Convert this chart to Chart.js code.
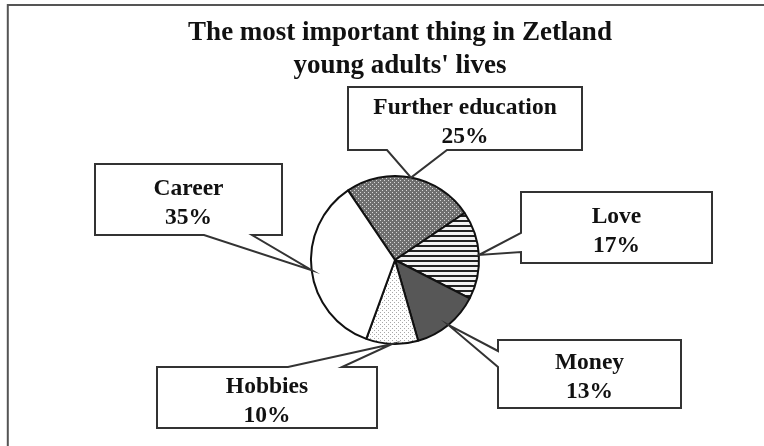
<!DOCTYPE html>
<html><head><meta charset="utf-8">
<style>html,body{margin:0;padding:0;background:#fff;}#wrap{width:764px;height:446px;position:relative;}</style>
<script src="https://cdn.jsdelivr.net/npm/chart.js@4/dist/chart.umd.min.js"></script>
</head><body><div id="wrap"><canvas id="c" width="764" height="446"></canvas></div>
<script>
const categories = ['Further education', 'Love', 'Money', 'Hobbies', 'Career'];
const values = [25, 17, 13, 10, 35];
const titleLines = ['The most important thing in Zetland', "young adults' lives"];

// layout of the callout boxes (per category, same order)
const calloutLayout = [
  {box: [348, 87, 582, 150], side: 'bottom', gap: [387, 447]},
  {box: [521, 192, 712, 263], side: 'left', gap: [233, 252]},
  {box: [498, 340, 681, 408], side: 'left', gap: [351, 367]},
  {box: [157, 367, 377, 428], side: 'top', gap: [288, 342]},
  {box: [95, 164, 282, 235], side: 'bottom', gap: [204, 252]}
];

function tile(w, h, draw) {
  const c = document.createElement('canvas');
  c.width = w; c.height = h;
  const x = c.getContext('2d');
  draw(x);
  return document.getElementById('c').getContext('2d').createPattern(c, 'repeat');
}
const fills = [
  tile(4, 4, x => { x.fillStyle = '#6f6f6f'; x.fillRect(0,0,4,4); x.fillStyle = '#d8d8d8'; x.fillRect(0,0,1,1); x.fillRect(2,2,1,1); }),
  tile(1, 5, x => { x.fillStyle = '#f2f2f2'; x.fillRect(0,0,1,5); x.fillStyle = '#222'; x.fillRect(0,0,1,2); }),
  '#575757',
  tile(4, 4, x => { x.fillStyle = '#fff'; x.fillRect(0,0,4,4); x.fillStyle = '#a8a8a8'; x.fillRect(0,0,1,1); x.fillRect(2,2,1,1); }),
  '#ffffff'
];

const decor = {
  id: 'decor',
  beforeDraw(chart) {
    const ctx = chart.ctx;
    ctx.save();
    ctx.fillStyle = '#fff';
    ctx.fillRect(0, 0, chart.width, chart.height);
    ctx.strokeStyle = '#555';
    ctx.lineWidth = 2;
    ctx.beginPath();
    ctx.moveTo(7.8, 446); ctx.lineTo(7.8, 5); ctx.lineTo(764, 5);
    ctx.stroke();
    ctx.fillStyle = '#111';
    ctx.font = 'bold 27px "Liberation Serif", "Times New Roman", serif';
    ctx.textAlign = 'center';
    ctx.textBaseline = 'middle';
    ctx.fillText(titleLines[0], 400, 33);
    ctx.fillText(titleLines[1], 400, 66);
    ctx.restore();
  },
  afterDraw(chart) {
    const ctx = chart.ctx;
    const meta = chart.getDatasetMeta(0);
    ctx.save();
    calloutLayout.forEach((c, i) => {
      const arc = meta.data[i];
      const mid = (arc.startAngle + arc.endAngle) / 2;
      const tx = arc.x + Math.cos(mid) * arc.outerRadius;
      const ty = arc.y + Math.sin(mid) * arc.outerRadius;
      const [l, t, r, b] = c.box;
      ctx.beginPath();
      ctx.moveTo(l, t);
      if (c.side === 'top') { ctx.lineTo(c.gap[0], t); ctx.lineTo(tx, ty); ctx.lineTo(c.gap[1], t); }
      ctx.lineTo(r, t);
      ctx.lineTo(r, b);
      if (c.side === 'bottom') { ctx.lineTo(c.gap[1], b); ctx.lineTo(tx, ty); ctx.lineTo(c.gap[0], b); }
      ctx.lineTo(l, b);
      if (c.side === 'left') { ctx.lineTo(l, c.gap[1]); ctx.lineTo(tx, ty); ctx.lineTo(l, c.gap[0]); }
      ctx.closePath();
      ctx.fillStyle = '#fff';
      ctx.fill();
      ctx.strokeStyle = '#333';
      ctx.lineWidth = 2;
      ctx.lineJoin = 'miter';
      ctx.stroke();
      const cx = (l + r) / 2, cy = (t + b) / 2;
      ctx.fillStyle = '#111';
      ctx.font = 'bold 23.5px "Liberation Serif", "Times New Roman", serif';
      ctx.textAlign = 'center';
      ctx.textBaseline = 'middle';
      ctx.fillText(categories[i], cx, cy - 11);
      ctx.fillText(values[i] + '%', cx, cy + 18);
    });
    ctx.restore();
  }
};

new Chart(document.getElementById('c'), {
  type: 'pie',
  data: {
    labels: categories,
    datasets: [{
      data: values,
      backgroundColor: fills,
      borderColor: '#111',
      borderWidth: 2
    }]
  },
  options: {
    responsive: false,
    devicePixelRatio: 1,
    animation: false,
    rotation: -34,
    radius: 84,
    layout: {padding: {left: 226, right: 200, top: 160, bottom: 86}},
    plugins: {legend: {display: false}, tooltip: {enabled: false}, title: {display: false}}
  },
  plugins: [decor]
});
</script>
</body></html>
